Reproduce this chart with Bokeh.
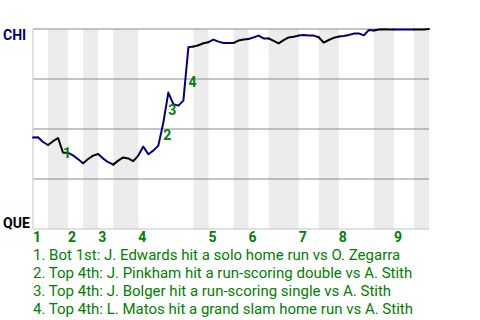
from bokeh.plotting import figure
from bokeh.models import Range1d, Label, LabelSet, ColumnDataSource
from bokeh.core.properties import value
from bokeh.embed import file_html
from bokeh.resources import INLINE

# ---------------- data ----------------
away_team = "CHI"
home_team = "QUE"

# CHI win probability after each plate appearance (index 0 = game start)
chi_win_prob = [
    0.458, 0.459, 0.435, 0.420, 0.439, 0.455, 0.381, 0.381, 0.368, 0.349,
    0.329, 0.350, 0.367, 0.375, 0.352, 0.334, 0.322, 0.342, 0.358, 0.353,
    0.339, 0.367, 0.412, 0.374, 0.392, 0.417, 0.532, 0.682, 0.624, 0.617,
    0.642, 0.909, 0.912, 0.919, 0.929, 0.934, 0.947, 0.937, 0.930, 0.930,
    0.930, 0.942, 0.947, 0.950, 0.958, 0.967, 0.953, 0.953, 0.941, 0.928,
    0.944, 0.958, 0.961, 0.967, 0.970, 0.967, 0.967, 0.959, 0.932, 0.945,
    0.956, 0.962, 0.965, 0.970, 0.977, 0.978, 0.968, 0.995, 0.993, 0.998,
    0.999, 0.998, 0.997, 0.997, 0.997, 0.997, 0.997, 0.997, 0.997, 1.000,
]

# plate-appearance index at which each half inning begins (last = game end)
half_inning_starts = [0, 3, 7, 10, 13, 16, 21, 32, 35, 40, 43, 47, 53, 57, 61, 68, 72, 76, 79]
inning_labels = ["1", "2", "3", "4", "5", "6", "7", "8", "9"]
grid_levels = [0.25, 0.5, 0.75, 1.0]

event_numbers = ["1", "2", "3", "4"]
event_pa_index = [6, 26, 27, 31]
event_label_prob = [0.383, 0.474, 0.598, 0.737]
event_texts = [
    "1. Bot 1st: J. Edwards hit a solo home run vs O. Zegarra",
    "2. Top 4th: J. Pinkham hit a run-scoring double vs A. Stith",
    "3. Top 4th: J. Bolger hit a run-scoring single vs A. Stith",
    "4. Top 4th: L. Matos hit a grand slam home run vs A. Stith",
]

# ---------------- style / layout ----------------
NAVY = "#000080"
GREEN = "#008000"
BAND = "#ececec"
GRID = "#8a8a8a"
BORDER = "#c4c4c4"
FONT = "Roboto"
W, H = 480, 320
PLOT_L, PLOT_R, PLOT_T, PLOT_B = 32.5, 428.5, 28.5, 228.5   # pixel edges of the chart area

n_pa = half_inning_starts[-1]
ppx = (PLOT_R - PLOT_L) / n_pa
ppy = (PLOT_B - PLOT_T)
x_range = Range1d(-PLOT_L / ppx, n_pa + (W - PLOT_R) / ppx)
y_range = Range1d(-(H - PLOT_B) / ppy, 1 + PLOT_T / ppy)

p = figure(width=W, height=H, output_backend="svg", toolbar_location=None,
           x_range=x_range, y_range=y_range, x_axis_type=None, y_axis_type=None,
           min_border=0)
p.min_border_left = p.min_border_right = p.min_border_top = p.min_border_bottom = 0
p.outline_line_color = None
p.background_fill_color = "white"
p.border_fill_color = "white"

# shaded bottom halves
bot_left = half_inning_starts[1:-1:2]
bot_right = half_inning_starts[2::2]
p.quad(left=bot_left, right=bot_right, bottom=0, top=1, fill_color=BAND, line_color=None)

# horizontal grid lines
p.segment(x0=0, x1=n_pa, y0=grid_levels, y1=grid_levels, line_color=GRID, line_width=1)
# left and bottom borders
p.segment(x0=[0, 0], x1=[0, n_pa], y0=[0, 0], y1=[1, 0], line_color=BORDER, line_width=1)

# win-probability line, coloured by batting team per half inning
xs, ys, cols = [], [], []
for h in range(len(half_inning_starts) - 1):
    s, e = half_inning_starts[h], half_inning_starts[h + 1]
    xs.append(list(range(s, e + 1)))
    ys.append(chi_win_prob[s:e + 1])
    cols.append(NAVY if h % 2 == 0 else "black")
p.multi_line(xs=xs, ys=ys, line_color=cols, line_width=2,
             line_join="round", line_cap="round")

# event markers
ev_src = ColumnDataSource(dict(x=event_pa_index, y=event_label_prob, t=event_numbers))
p.add_layout(LabelSet(x="x", y="y", text="t", source=ev_src,
                      text_align="left", text_baseline="middle",
                      text_color=GREEN, text_font=value(FONT), text_font_style="bold",
                      text_font_size="14px"))

# team labels
p.add_layout(Label(x=0, y=1, x_offset=-30, y_offset=2, text=away_team,
                   text_align="left", text_baseline="top", text_color=NAVY,
                   text_font=FONT, text_font_style="bold", text_font_size="14px"))
p.add_layout(Label(x=0, y=0, x_offset=-30, y_offset=14.5, text=home_team,
                   text_align="left", text_baseline="top", text_color="black",
                   text_font=FONT, text_font_style="bold", text_font_size="14px"))

# inning labels
inn_src = ColumnDataSource(dict(x=half_inning_starts[0:-1:2], y=[0] * len(inning_labels), t=inning_labels))
p.add_layout(LabelSet(x="x", y="y", text="t", source=inn_src, y_offset=-2,
                      text_align="left", text_baseline="top",
                      text_color=GREEN, text_font=value(FONT), text_font_style="bold",
                      text_font_size="14px"))

# event descriptions
for k, txt in enumerate(event_texts):
    p.add_layout(Label(x=0, y=0, x_offset=0, y_offset=-(16.6 + 18.1 * k), text=txt,
                       text_align="left", text_baseline="top", text_color=GREEN,
                       text_font=FONT, text_font_size="15px"))

open("out.html", "w").write(file_html(p, INLINE))
